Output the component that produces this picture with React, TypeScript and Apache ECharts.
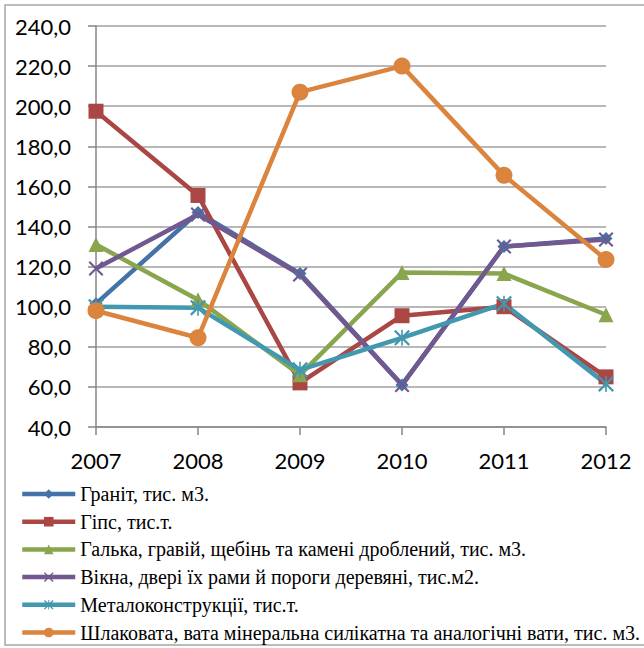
import React, { useEffect, useRef } from "react";
import * as echarts from "echarts";

const years = ["2007", "2008", "2009", "2010", "2011", "2012"];
const seriesNames = [
  "Граніт, тис. м3.",
  "Гіпс, тис.т.",
  "Галька, гравій, щебінь та камені дроблений, тис. м3.",
  "Вікна, двері їх рами й пороги деревяні, тис.м2.",
  "Металоконструкції, тис.т.",
  "Шлаковата, вата мінеральна силікатна та аналогічні вати, тис. м3.",
];
const granite = [101.5, 147, 116.5, 61, 130, 134];
const gypsum = [197.5, 155.5, 62, 95.5, 100, 65];
const gravel = [131, 103.5, 66, 117, 116.5, 96];
const windows = [119, 146, 116, 61, 130, 133.5];
const metal = [100, 99.5, 68.5, 84.5, 101.5, 61.5];
const slagwool = [98, 84.5, 207, 220, 165.5, 123.5];

const colors = ["#4572A7", "#AA4643", "#89A54E", "#71588F", "#4198AF", "#DB843D"];
const X_PATH =
  "path://M0,2 L2,0 L10,8 L18,0 L20,2 L12,10 L20,18 L18,20 L10,12 L2,20 L0,18 L8,10 Z";
const STAR_PATH =
  "path://M0,2 L2,0 L10,8 L18,0 L20,2 L12,10 L20,18 L18,20 L10,12 L2,20 L0,18 L8,10 Z M9,0 L11,0 L11,20 L9,20 Z";
const symbols = ["diamond", "rect", "triangle", X_PATH, STAR_PATH, "circle"];
const symbolSizes = [13, 15, 15, 15, 16, 17];
const dataSets = [granite, gypsum, gravel, windows, metal, slagwool];

export default function App() {
  const ref = useRef<HTMLDivElement>(null);
  useEffect(() => {
    document.body.style.margin = "0";
    const chart = echarts.init(ref.current!, null, { renderer: "svg" });
    chart.setOption({
      animation: false,
      backgroundColor: "#ffffff",
      color: colors,
      graphic: [
        {
          type: "rect",
          shape: { x: 5, y: 5, width: 660, height: 640 },
          style: { fill: "none", stroke: "#A6A6A6", lineWidth: 1.5 },
          silent: true,
        },
      ],
      grid: { left: 96, right: 38, top: 26, bottom: 221, containLabel: false },
      legend: {
        orient: "vertical",
        left: 20,
        top: 484,
        height: 190,
        width: 624,
        padding: 0,
        itemWidth: 53,
        itemHeight: 12,
        itemGap: 7.7,
        data: seriesNames,
        lineStyle: { width: 4.5 },
        textStyle: {
          fontFamily: "'Liberation Serif', 'DejaVu Serif', serif",
          fontSize: 20,
          lineHeight: 20,
          color: "#000",
        },
      },
      xAxis: {
        type: "category",
        data: years,
        boundaryGap: false,
        axisLine: { lineStyle: { color: "#868686", width: 1.5 } },
        axisTick: { show: true, length: 8, alignWithLabel: true, lineStyle: { color: "#868686", width: 1.5 } },
        axisLabel: {
          fontFamily: "Lato",
          fontSize: 22,
          color: "#000",
          margin: 22,
        },
        splitLine: { show: false },
      },
      yAxis: {
        type: "value",
        min: 40,
        max: 240,
        interval: 20,
        axisLine: { show: true, lineStyle: { color: "#868686", width: 1.5 } },
        axisTick: { show: true, length: 8, lineStyle: { color: "#868686", width: 1.5 } },
        axisLabel: {
          fontFamily: "Lato",
          fontSize: 22,
          color: "#000",
          margin: 25,
          formatter: (v: number) => v.toFixed(1).replace(".", ","),
        },
        splitLine: { show: true, lineStyle: { color: "#A0A0A0", width: 1.5 } },
      },
      series: seriesNames.map((name, i) => ({
        name,
        type: "line",
        data: dataSets[i],
        symbol: symbols[i],
        symbolSize: symbolSizes[i],
        showAllSymbol: true,
        lineStyle: { width: 4.5, color: colors[i] },
        itemStyle: { color: colors[i] },
        emphasis: { disabled: true },
      })),
    });
    return () => chart.dispose();
  }, []);
  return <div ref={ref} style={{ width: 644, height: 648 }} />;
}
